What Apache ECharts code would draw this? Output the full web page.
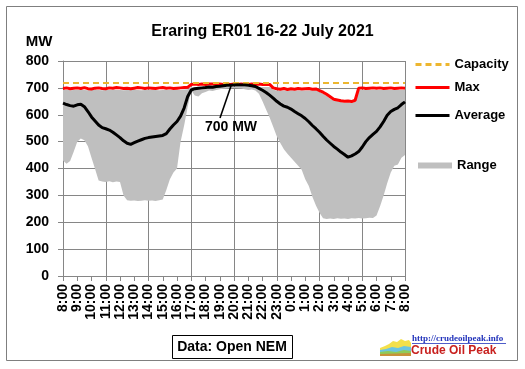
<!DOCTYPE html>
<html><head><meta charset="utf-8">
<script src="https://cdn.jsdelivr.net/npm/echarts@6/dist/echarts.min.js"></script>
<style>html,body{margin:0;padding:0;background:#fff}#c{width:525px;height:369px}</style>
</head><body><div id="c"></div>
<script>
// ---- data (15-minute steps from 8:00 to 8:00 next day) ----
const hourLabels = ['8:00','9:00','10:00','11:00','12:00','13:00','14:00','15:00','16:00','17:00','18:00','19:00','20:00','21:00','22:00','23:00','0:00','1:00','2:00','3:00','4:00','5:00','6:00','7:00','8:00'];
const capacity = 720;
const avgMW = [
  643,638,634,632, 637,639,630,612, 592,577,562,552, 548,543,535,525,
  515,503,494,490, 496,502,507,512, 515,517,519,521, 523,530,547,562,
  575,595,625,668, 692,697,699,700, 701,703,702,705, 706,708,710,710,
  711,712,711,711, 710,708,705,698, 691,683,673,662, 650,640,632,628,
  621,612,604,596, 586,574,560,548, 535,520,506,494, 482,472,461,452,
  442,447,454,463, 480,500,515,527, 538,555,575,598, 612,620,626,638,
  648];
const maxMW = [
  698,700,697,699, 700,698,701,697, 696,699,700,698, 697,700,699,701,
  700,698,699,697, 699,701,700,698, 700,699,698,700, 701,699,700,698,
  699,700,701,702, 713,714,713,714, 713,714,714,713, 714,713,714,713,
  714,713,714,713, 713,714,713,714, 713,713,713,700, 697,695,698,694,
  697,695,698,696, 697,698,695,696, 690,684,676,667, 658,655,652,650,
  651,649,654,699, 700,698,699,700, 699,700,698,699, 700,698,699,700,
  699];
const rangeLow = [
  430,418,428,462, 500,512,505,483, 440,398,355,352, 350,353,349,352,
  350,300,282,280, 281,279,280,282, 280,281,279,282, 285,320,360,385,
  400,500,560,630, 690,672,668,680, 685,690,688,692, 695,697,698,700,
  700,699,698,695, 692,694,690,678, 650,620,590,555, 520,495,472,455,
  440,425,410,395, 360,335,295,262, 235,215,212,214, 212,215,213,214,
  212,215,214,216, 214,215,217,216, 225,260,300,345, 385,410,415,440,
  450];
const rangeHigh = [
  692,693,691,692, 693,692,692,691, 692,693,692,691, 692,692,693,692,
  692,691,692,693, 692,692,691,692, 693,692,692,691, 692,693,692,692,
  693,692,694,695, 703,703,703,703, 703,703,703,703, 703,703,703,703,
  703,703,703,703, 703,703,703,703, 703,703,703,693, 690,690,690,690,
  690,690,690,690, 690,690,690,690, 685,678,670,660, 652,650,647,645,
  646,644,648,692, 692,692,692,692, 692,692,692,692, 692,692,692,692,
  692];

// ---- build ----
const cats = [];
for (let h = 0; h < 24; h++) for (let q = 0; q < 4; q++) cats.push(hourLabels[h] + '|' + q);
cats.push(hourLabels[24] + '|end');
const rangeSpan = rangeHigh.map((v, i) => v - rangeLow[i]);

const FF = 'Liberation Sans';
const GRID = '#868686';
const legendText = {fontFamily: FF, fontWeight: 'bold', fontSize: 13, color: '#000'};
function lineLegend(name, top) {
  return {
    data: [name], orient: 'vertical', left: 414, top: top, padding: 0,
    itemWidth: 34, itemHeight: 14, selectedMode: false,
    itemStyle: {opacity: 0}, lineStyle: {width: 3},
    textStyle: legendText
  };
}
const chart = echarts.init(document.getElementById('c'), null, {renderer: 'canvas'});
chart.setOption({
  backgroundColor: '#fff',
  animation: false,
  title: {
    text: 'Eraring ER01 16-22 July 2021', left: 'center', top: 19,
    textStyle: {fontFamily: FF, fontWeight: 'bold', fontSize: 16, color: '#000'}
  },
  grid: {left: 63, top: 61, width: 342, height: 215, containLabel: false},
  legend: [
    lineLegend('Capacity', 58),
    lineLegend('Max', 81),
    lineLegend('Average', 109),
    {
      data: [{name: 'Range', icon: 'rect'}], orient: 'vertical', left: 418, top: 159, padding: 0,
      itemWidth: 34, itemHeight: 6, selectedMode: false,
      textStyle: legendText
    }
  ],
  xAxis: {
    type: 'category', data: cats, boundaryGap: false,
    axisLine: {lineStyle: {color: GRID, width: 1}},
    axisTick: {show: true, length: 5, interval: (i) => i % 4 === 0, lineStyle: {color: GRID}},
    axisLabel: {
      interval: (i) => i % 4 === 0, rotate: 90, margin: 8,
      formatter: (v, i) => hourLabels[Math.round(i / 4)],
      fontFamily: FF, fontWeight: 'bold', fontSize: 14, color: '#000'
    },
    splitLine: {show: true, interval: (i) => i % 12 === 0, lineStyle: {color: GRID, width: 1}}
  },
  yAxis: {
    type: 'value', min: 0, max: 800, interval: 100,
    axisLine: {show: true, lineStyle: {color: GRID}},
    axisTick: {show: true, length: 5, lineStyle: {color: GRID}},
    axisLabel: {margin: 14, fontFamily: FF, fontWeight: 'bold', fontSize: 14, color: '#000'},
    splitLine: {show: true, lineStyle: {color: GRID, width: 1}}
  },
  series: [
    {
      name: '_base', type: 'line', data: rangeLow, stack: 'range', symbol: 'none',
      lineStyle: {width: 0, opacity: 0}, silent: true, z: 1
    },
    {
      name: 'Range', type: 'line', data: rangeSpan, stack: 'range', symbol: 'none',
      lineStyle: {width: 0, opacity: 0}, itemStyle: {color: '#BFBFBF'},
      areaStyle: {color: '#BFBFBF', opacity: 1}, silent: true, z: 1
    },
    {
      name: 'Max', type: 'line', data: maxMW, symbol: 'none',
      lineStyle: {color: '#FF0000', width: 3}, itemStyle: {color: '#FF0000'}, z: 3
    },
    {
      name: 'Capacity', type: 'line', data: [], symbol: 'none',
      lineStyle: {color: '#EDB62F', width: 2, type: [6, 4]}, itemStyle: {color: '#EDB62F'}, z: 4,
      markLine: {
        symbol: ['none', 'none'], silent: true, label: {show: false},
        lineStyle: {color: '#EDB62F', width: 2, type: [6, 4]},
        data: [{yAxis: capacity}]
      }
    },
    {
      name: 'Average', type: 'line', data: avgMW, symbol: 'none',
      lineStyle: {color: '#000000', width: 3}, itemStyle: {color: '#000'}, z: 5
    }
  ],
  graphic: [
    {type: 'rect', shape: {x: 6.5, y: 6.5, width: 511, height: 354}, style: {fill: 'none', stroke: '#7F7F7F', lineWidth: 1}, silent: true, z: -1},
    {type: 'text', x: 39, y: 42, style: {text: 'MW', fontFamily: FF, fontWeight: 'bold', fontSize: 15, fill: '#000', align: 'center', verticalAlign: 'middle'}},
    {type: 'line', shape: {x1: 220, y1: 118, x2: 231, y2: 86}, style: {stroke: '#000', lineWidth: 1.6}, z: 10},
    {type: 'text', x: 231, y: 127, z: 10, style: {text: '700 MW', fontFamily: FF, fontWeight: 'bold', fontSize: 14, fill: '#000', align: 'center', verticalAlign: 'middle'}},
    {type: 'rect', shape: {x: 172.5, y: 335.5, width: 120, height: 23}, style: {fill: '#fff', stroke: '#000', lineWidth: 1}},
    {type: 'text', x: 232, y: 347, style: {text: 'Data: Open NEM', fontFamily: FF, fontWeight: 'bold', fontSize: 14, fill: '#000', align: 'center', verticalAlign: 'middle'}},
    // logo
    {type: 'polygon', shape: {points: [[380,356],[380,348],[385,346],[389,344],[393,341],[397,342],[401,339],[405,341],[409,340],[411,343],[411,356]]}, style: {fill: '#F4E04A'}},
    {type: 'polygon', shape: {points: [[380,356],[380,350],[386,349],[392,347],[398,348],[404,346],[411,347],[411,356]]}, style: {fill: '#6CC5E0'}},
    {type: 'polygon', shape: {points: [[380,356],[380,352],[388,351],[396,352],[404,350],[411,351],[411,356]]}, style: {fill: '#8FCB5A'}},
    {type: 'polygon', shape: {points: [[380,356],[380,354],[411,353],[411,356]]}, style: {fill: '#C8923A'}},
    {type: 'text', x: 412, y: 339, style: {text: 'http://crudeoilpeak.info', fontFamily: 'Liberation Serif', fontWeight: 'bold', fontSize: 9, fill: '#2233BB', align: 'left', verticalAlign: 'middle'}},
    {type: 'line', shape: {x1: 412, y1: 343.5, x2: 506, y2: 343.5}, style: {stroke: '#2233BB', lineWidth: 0.8}},
    {type: 'text', x: 411, y: 351, style: {text: 'Crude Oil Peak', fontFamily: FF, fontWeight: 'bold', fontSize: 12, fill: '#C8201E', align: 'left', verticalAlign: 'middle'}}
  ]
});
</script></body></html>
